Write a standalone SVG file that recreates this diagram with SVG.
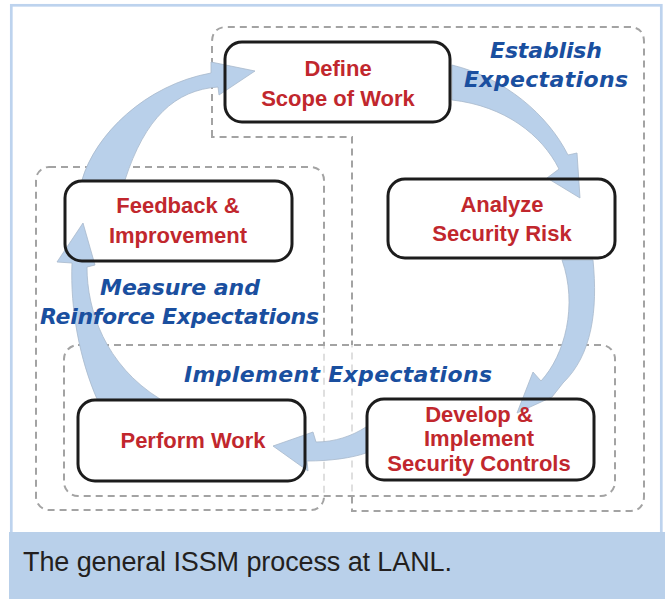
<svg xmlns="http://www.w3.org/2000/svg" width="665" height="599" viewBox="0 0 665 599">
<style>
.zone{fill:none;stroke:#a3a3a3;stroke-width:2;stroke-dasharray:7 5}
.box{fill:none;stroke:#1c1c1c;stroke-width:3}
.red{font-family:"Liberation Sans",Arial,sans-serif;font-weight:bold;font-size:22px;fill:#c1272d;text-anchor:middle}
.blue{font-family:"DejaVu Sans",sans-serif;font-weight:bold;font-style:italic;font-size:22px;fill:#1a4f9f}
.arr{fill:#b9d0ea;stroke:#a8b9cc;stroke-width:0.8;stroke-linejoin:round}
.cap{font-family:"Liberation Sans",Arial,sans-serif;font-size:27px;fill:#231f20}
</style>
<rect x="0" y="0" width="665" height="599" fill="#fff"/>
<rect x="11.3" y="5.3" width="650" height="540" fill="#fff" stroke="#bdd3ee" stroke-width="2.7"/>
<rect x="9" y="532" width="656" height="67" fill="#b9d0ea"/>
<text class="cap" x="23" y="571" textLength="429">The general ISSM process at LANL.</text>

<g id="zones">
<path id="zone-establish" class="zone" d="M212,137 V42 Q212,27 227,27 H629 Q644,27 644,42 V496 Q644,511 629,511 H352 V137 Z"/>
<rect id="zone-measure" class="zone" x="36" y="167" width="288" height="343" rx="13"/>
<rect id="zone-implement" class="zone" x="64" y="345" width="551" height="151" rx="14" style="fill:#fff;fill-opacity:0.65"/>
</g>

<g id="connectors">
<path class="arr" d="M82,180 C95,135 145,85 211,73 L211,62 L255,71 L219,95 L218,87 C175,90 145,118 125,180 Z"/>
<path class="arr" d="M452,65 C505,78 548,115 568,155 L577,153 L580,198 L547,178 L559,169 C542,135 505,106 452,100 Z"/>
<path class="arr" d="M593,260 C598,310 592,355 563,383 L552,397 L517,413 L533,372 L541,381 C565,355 578,305 562,260 Z"/>
<path class="arr" d="M366,427 C352,436 335,442 316,442 L313,432 L273,446 L308,471 L307,461 C330,461 352,458 366,453 Z"/>
<path class="arr" d="M97,399 C80,360 70,310 72,263 L57,262 L83,223 L95,265 L87,267 C87,310 105,365 160,399 Z"/>
</g>

<g id="node-define">
<rect class="box" x="225" y="42" width="225" height="80" rx="17"/>
<text class="red" x="338" y="76">Define</text>
<text class="red" x="338" y="106">Scope of Work</text>
</g>
<g id="node-feedback">
<rect class="box" x="65" y="181" width="227" height="80" rx="17"/>
<text class="red" x="178" y="213">Feedback &amp;</text>
<text class="red" x="178" y="243">Improvement</text>
</g>
<g id="node-analyze">
<rect class="box" x="388" y="179" width="227" height="79" rx="17"/>
<text class="red" x="502" y="212">Analyze</text>
<text class="red" x="502" y="241">Security Risk</text>
</g>
<g id="node-perform">
<rect class="box" x="78" y="400" width="227" height="81" rx="17"/>
<text class="red" x="193" y="448">Perform Work</text>
</g>
<g id="node-develop">
<rect class="box" x="367" y="399" width="227" height="81" rx="17"/>
<text class="red" x="479" y="422">Develop &amp;</text>
<text class="red" x="479" y="446">Implement</text>
<text class="red" x="479" y="471">Security Controls</text>
</g>

<g id="zone-labels">
<text class="blue" x="490" y="58" textLength="112">Establish</text>
<text class="blue" x="464" y="87" textLength="164">Expectations</text>
<text class="blue" x="100" y="295" textLength="160">Measure and</text>
<text class="blue" x="40" y="324" textLength="279">Reinforce Expectations</text>
<text class="blue" x="184" y="382" textLength="308">Implement Expectations</text>
</g>
</svg>
